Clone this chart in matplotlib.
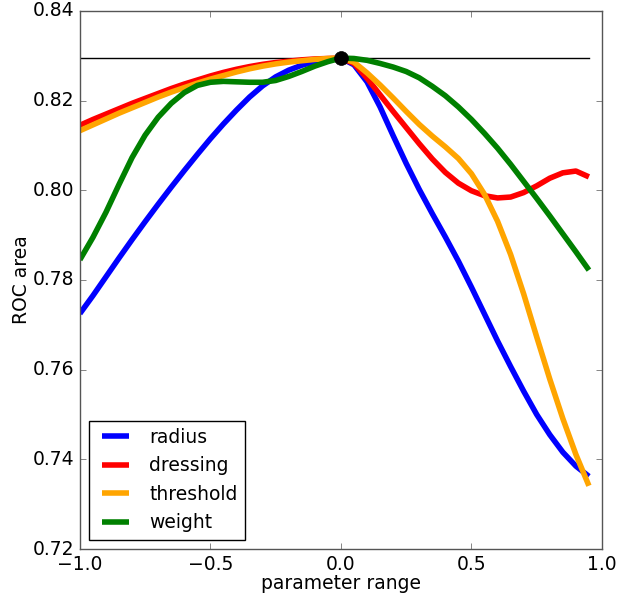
import numpy as np
import matplotlib
matplotlib.use("Agg")
import matplotlib.pyplot as plt

plt.style.use("classic")
plt.rcParams["font.size"] = 13.5

# parameter grid
x = np.arange(-1.0, 0.96, 0.05)

radius = [0.7725, 0.7765, 0.7807, 0.7849, 0.7890, 0.7930, 0.7969, 0.8007,
          0.8044, 0.8080, 0.8115, 0.8148, 0.8179, 0.8208, 0.8233, 0.8253,
          0.8268, 0.8279, 0.8287, 0.8292, 0.8295,
          0.8280, 0.8242, 0.8186, 0.8122, 0.8060, 0.8002, 0.7948, 0.7896,
          0.7842, 0.7784, 0.7724, 0.7664, 0.7607, 0.7552, 0.7500, 0.7455,
          0.7416, 0.7385, 0.7362]

dressing = [0.8145, 0.8158, 0.8170, 0.8182, 0.8194, 0.8205, 0.8216, 0.8227,
            0.8237, 0.8246, 0.8255, 0.8263, 0.8270, 0.8276, 0.8281, 0.8285,
            0.8288, 0.8291, 0.8293, 0.8294, 0.8295,
            0.8283, 0.8250, 0.8213, 0.8176, 0.8140, 0.8104, 0.8070, 0.8040,
            0.8016, 0.7999, 0.7988, 0.7983, 0.7985, 0.7995, 0.8010, 0.8027,
            0.8039, 0.8043, 0.8030]

threshold = [0.8133, 0.8146, 0.8159, 0.8172, 0.8184, 0.8196, 0.8208, 0.8219,
             0.8229, 0.8239, 0.8248, 0.8256, 0.8264, 0.8271, 0.8277, 0.8282,
             0.8286, 0.8289, 0.8292, 0.8294, 0.8295,
             0.8286, 0.8262, 0.8235, 0.8206, 0.8176, 0.8147, 0.8121, 0.8097,
             0.8071, 0.8037, 0.7991, 0.7931, 0.7857, 0.7769, 0.7673, 0.7579,
             0.7491, 0.7411, 0.7341]

weight = [0.7845, 0.7895, 0.7951, 0.8013, 0.8073, 0.8123, 0.8163, 0.8194,
          0.8218, 0.8234, 0.8241, 0.8243, 0.8242, 0.8241, 0.8241, 0.8245,
          0.8254, 0.8265, 0.8277, 0.8287, 0.8295,
          0.8294, 0.8290, 0.8283, 0.8275, 0.8265, 0.8251, 0.8232, 0.8211,
          0.8186, 0.8158, 0.8127, 0.8094, 0.8058, 0.8020, 0.7982, 0.7943,
          0.7903, 0.7863, 0.7822]

baseline = 0.8295

fig = plt.figure(figsize=(6.19, 5.97), dpi=100, facecolor="white")
ax = fig.add_axes([0.129, 0.0804, 0.8435, 0.9012])

ax.plot([x[0], x[-1]], [baseline, baseline], color="black", lw=1)
style = dict(lw=4, solid_joinstyle="round", solid_capstyle="butt")
ax.plot(x, radius, color="blue", label="radius", **style)
ax.plot(x, dressing, color="red", label="dressing", **style)
ax.plot(x, threshold, color="orange", label="threshold", **style)
ax.plot(x, weight, color="green", label="weight", **style)
ax.plot([0.0], [baseline], "o", color="black", ms=10, zorder=5)

ax.set_xlim(-1, 1)
ax.set_ylim(0.72, 0.84)
ax.set_xticks([-1.0, -0.5, 0.0, 0.5, 1.0])
ax.set_yticks([0.72, 0.74, 0.76, 0.78, 0.80, 0.82, 0.84])
ax.set_xlabel("parameter range", labelpad=0)
ax.set_ylabel("ROC area", labelpad=1.5)
for s in ax.spines.values():
    s.set_color("#555555")
ax.tick_params(colors="#555555", labelcolor="black")

ax.legend(loc="lower left", fontsize=13.5, handlelength=2.0)

fig.savefig("out.png", dpi=100, facecolor="white")
